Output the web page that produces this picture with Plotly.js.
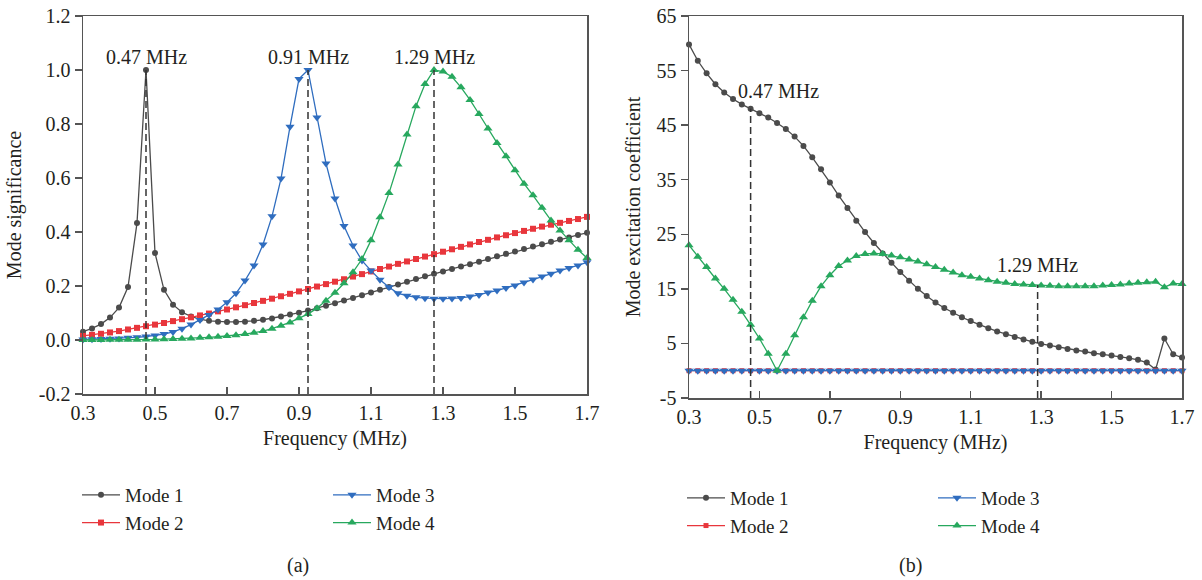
<!DOCTYPE html>
<html><head><meta charset="utf-8">
<script src="https://cdn.plot.ly/plotly-3.0.1.min.js"></script>
<style>body{margin:0;background:#fff}#chart{width:1202px;height:580px}</style>
</head><body><div id="chart"></div>
<script>
// ---------- data ----------
const freq = [0.3,0.325,0.35,0.375,0.4,0.425,0.45,0.475,0.5,0.525,0.55,0.575,0.6,0.625,0.65,0.675,0.7,0.725,0.75,0.775,0.8,0.825,0.85,0.875,0.9,0.925,0.95,0.975,1.0,1.025,1.05,1.075,1.1,1.125,1.15,1.175,1.2,1.225,1.25,1.275,1.3,1.325,1.35,1.375,1.4,1.425,1.45,1.475,1.5,1.525,1.55,1.575,1.6,1.625,1.65,1.675,1.7];

// (a) mode significance
const sigMode1 = [0.031,0.043,0.059,0.083,0.12,0.196,0.433,1.0,0.322,0.186,0.131,0.103,0.087,0.077,0.071,0.068,0.067,0.067,0.068,0.071,0.075,0.080,0.087,0.094,0.101,0.109,0.118,0.127,0.136,0.146,0.156,0.166,0.176,0.186,0.196,0.206,0.216,0.226,0.236,0.245,0.254,0.263,0.272,0.281,0.29,0.3,0.31,0.319,0.328,0.337,0.346,0.355,0.364,0.372,0.38,0.389,0.397];
const sigMode2 = [0.015,0.019,0.023,0.028,0.033,0.039,0.045,0.051,0.057,0.063,0.07,0.077,0.084,0.091,0.098,0.106,0.113,0.121,0.129,0.137,0.145,0.153,0.162,0.171,0.180,0.189,0.198,0.207,0.216,0.225,0.235,0.244,0.254,0.263,0.272,0.282,0.291,0.300,0.309,0.318,0.327,0.336,0.345,0.354,0.363,0.371,0.380,0.388,0.396,0.404,0.412,0.420,0.427,0.434,0.441,0.448,0.456];
const sigMode3 = [0.002,0.003,0.004,0.005,0.006,0.008,0.01,0.013,0.017,0.022,0.03,0.042,0.057,0.074,0.093,0.113,0.14,0.173,0.22,0.276,0.354,0.458,0.598,0.79,0.967,1.0,0.824,0.654,0.524,0.422,0.35,0.294,0.257,0.223,0.195,0.173,0.164,0.158,0.155,0.153,0.153,0.154,0.156,0.161,0.167,0.176,0.183,0.193,0.202,0.213,0.224,0.235,0.245,0.257,0.267,0.276,0.288];
const sigMode4 = [0.0,0.0,0.0,0.001,0.001,0.001,0.001,0.002,0.002,0.003,0.004,0.005,0.006,0.008,0.01,0.012,0.015,0.018,0.022,0.027,0.033,0.042,0.053,0.065,0.081,0.096,0.118,0.145,0.175,0.21,0.251,0.30,0.369,0.455,0.544,0.65,0.761,0.866,0.948,1.0,0.994,0.975,0.936,0.889,0.837,0.783,0.73,0.681,0.629,0.579,0.536,0.49,0.443,0.406,0.369,0.334,0.304];

// (b) mode excitation coefficient
const excMode1 = [59.8,56.8,54.5,52.5,51.0,49.8,48.8,48.0,47.2,46.4,45.4,44.3,42.9,41.2,39.1,36.9,34.5,32.1,29.8,27.5,25.4,23.4,21.5,19.8,18.1,16.5,15.0,13.7,12.5,11.5,10.6,9.8,9.1,8.4,7.8,7.2,6.7,6.2,5.7,5.3,4.9,4.6,4.3,4.0,3.7,3.5,3.2,3.0,2.8,2.5,2.3,2.0,1.5,0.2,5.9,3.0,2.4];
const excMode2 = [0,0,0,0,0,0,0,0,0,0,0,0,0,0,0,0,0,0,0,0,0,0,0,0,0,0,0,0,0,0,0,0,0,0,0,0,0,0,0,0,0,0,0,0,0,0,0,0,0,0,0,0,0,0,0,0,0];
const excMode3 = [0,0,0,0,0,0,0,0,0,0,0,0,0,0,0,0,0,0,0,0,0,0,0,0,0,0,0,0,0,0,0,0,0,0,0,0,0,0,0,0,0,0,0,0,0,0,0,0,0,0,0,0,0,0,0,0,0];
const excMode4 = [23.0,20.9,19.0,16.9,15.0,13.0,10.8,8.4,5.9,3.1,0.0,3.1,6.5,9.8,12.8,15.5,17.5,19.2,20.2,21.0,21.4,21.5,21.4,21.1,20.8,20.4,20.0,19.5,19.0,18.5,18.0,17.5,17.2,16.9,16.6,16.3,16.1,15.9,15.8,15.7,15.6,15.55,15.5,15.5,15.5,15.5,15.5,15.6,15.7,15.8,16.0,16.1,16.2,16.3,15.3,16.0,15.9];

const seriesNames = ['Mode 1','Mode 2','Mode 3','Mode 4'];

// ticks
const xTickVals = [0.3,0.5,0.7,0.9,1.1,1.3,1.5,1.7];
const xTickText = ['0.3','0.5','0.7','0.9','1.1','1.3','1.5','1.7'];
const yTickValsA = [-0.2,0.0,0.2,0.4,0.6,0.8,1.0,1.2];
const yTickTextA = ['-0.2','0.0','0.2','0.4','0.6','0.8','1.0','1.2'];
const yTickValsB = [-5,5,15,25,35,45,55,65];
const yTickTextB = ['-5','5','15','25','35','45','55','65'];

// reference (dashed) lines
const peakFreqsA = [0.475, 0.925, 1.275];
const peakLabelsA = ['0.47 MHz','0.91 MHz','1.29 MHz'];
const refFreqsB = [0.475, 1.29];
const refTopsB = [48.0, 15.7];
const refLabelsB = ['0.47 MHz','1.29 MHz'];

// ---------- styling ----------
const FONT = '"Liberation Serif", serif';
const TXT = '#231f20';
const colors = ['#4b4b4b','#e8363c','#2f6dbf','#27a85e'];
const symbols = ['circle','square','triangle-down','triangle-up'];
const msizes = [6,6,8,8];

const sigSeries = [sigMode1, sigMode2, sigMode3, sigMode4];
const excSeries = [excMode1, excMode2, excMode3, excMode4];

const traces = [];
sigSeries.forEach((ys, i) => {
  traces.push({
    type:'scatter', mode:'lines+markers', x:freq, y:ys, name:seriesNames[i],
    xaxis:'x', yaxis:'y', legend: i < 2 ? 'legend' : 'legend2', cliponaxis:false,
    line:{color:colors[i], width:1.3},
    marker:{symbol:symbols[i], size:msizes[i], color:colors[i]}
  });
});
excSeries.forEach((ys, i) => {
  traces.push({
    type:'scatter', mode:'lines+markers', x:freq, y:ys, name:seriesNames[i],
    xaxis:'x2', yaxis:'y2', legend: i < 2 ? 'legend3' : 'legend4', cliponaxis:false,
    line:{color:colors[i], width:1.3},
    marker:{symbol:symbols[i], size: i === 1 ? 5 : msizes[i], color:colors[i]}
  });
});

const axisCommon = {
  linecolor:'#555', linewidth:1.5, mirror:true, showgrid:false, zeroline:false,
  tickfont:{size:20, color:TXT, family:FONT}, ticklen:7, tickcolor:'#555', tickwidth:1.5,
  automargin:false
};

const shapes = [];
const annotations = [];
peakFreqsA.forEach((f, k) => {
  const idx = freq.indexOf(f);
  const top = Math.max(...sigSeries.map(s => s[idx]));
  shapes.push({type:'line', xref:'x', yref:'y', x0:f, x1:f, y0:yTickValsA[0], y1:top,
    line:{color:'#333', width:1.5, dash:'7px,4px'}});
  annotations.push({xref:'x', yref:'y', x:f, y:top + 0.05, text:peakLabelsA[k], showarrow:false,
    font:{size:20, color:TXT, family:FONT}, xanchor:'center', yanchor:'middle'});
});
refFreqsB.forEach((f, k) => {
  shapes.push({type:'line', xref:'x2', yref:'y2', x0:f, x1:f, y0:yTickValsB[0], y1:refTopsB[k],
    line:{color:'#333', width:1.5, dash:'7px,4px'}});
});
annotations.push({xref:'x2', yref:'y2', x:0.553, y:51.3, text:refLabelsB[0], showarrow:false,
  font:{size:20, color:TXT, family:FONT}, xanchor:'center', yanchor:'middle'});
annotations.push({xref:'x2', yref:'y2', x:1.29, y:19.4, text:refLabelsB[1], showarrow:false,
  font:{size:20, color:TXT, family:FONT}, xanchor:'center', yanchor:'middle'});
annotations.push({xref:'paper', yref:'paper', x:298/1202, y:1-565/580, text:'(a)', showarrow:false,
  font:{size:20, color:TXT, family:FONT}, xanchor:'center', yanchor:'middle'});
annotations.push({xref:'paper', yref:'paper', x:910/1202, y:1-565/580, text:'(b)', showarrow:false,
  font:{size:20, color:TXT, family:FONT}, xanchor:'center', yanchor:'middle'});

const legendCommon = {orientation:'v', bgcolor:'rgba(0,0,0,0)', borderwidth:0, itemwidth:38,
  font:{size:19, color:TXT, family:FONT}, xanchor:'left', yanchor:'top', traceorder:'normal'};

const layout = {
  width:1202, height:580, paper_bgcolor:'#fff', plot_bgcolor:'#fff',
  margin:{l:0, r:0, t:0, b:0},
  font:{family:FONT, color:TXT, size:20},
  showlegend:true,
  xaxis:{...axisCommon, anchor:'y', domain:[83/1202, 587/1202], range:[0.3,1.7], ticks:'inside',
    tickvals:xTickVals, ticktext:xTickText,
    title:{text:'Frequency (MHz)', font:{size:20, color:TXT, family:FONT}, standoff:8}},
  yaxis:{...axisCommon, anchor:'x', domain:[1-394/580, 1-16/580], range:[-0.2,1.2], ticks:'outside',
    tickvals:yTickValsA, ticktext:yTickTextA,
    title:{text:'Mode significance', font:{size:20, color:TXT, family:FONT}, standoff:12}},
  xaxis2:{...axisCommon, anchor:'y2', domain:[689/1202, 1182/1202], range:[0.3,1.7], ticks:'inside',
    tickvals:xTickVals, ticktext:xTickText,
    title:{text:'Frequency (MHz)', font:{size:20, color:TXT, family:FONT}, standoff:8}},
  yaxis2:{...axisCommon, anchor:'x2', domain:[1-398/580, 1-16/580], range:[-5,65], ticks:'outside',
    tickvals:yTickValsB, ticktext:yTickTextB,
    title:{text:'Mode excitation coefficient', font:{size:20, color:TXT, family:FONT}, standoff:10}},
  legend:{...legendCommon, x:77/1202, y:1-476/580},
  legend2:{...legendCommon, x:328/1202, y:1-476/580},
  legend3:{...legendCommon, x:682/1202, y:1-479/580},
  legend4:{...legendCommon, x:933/1202, y:1-479/580},
  shapes, annotations, hovermode:false
};

Plotly.newPlot('chart', traces, layout, {displayModeBar:false, staticPlot:true});
</script></body></html>
